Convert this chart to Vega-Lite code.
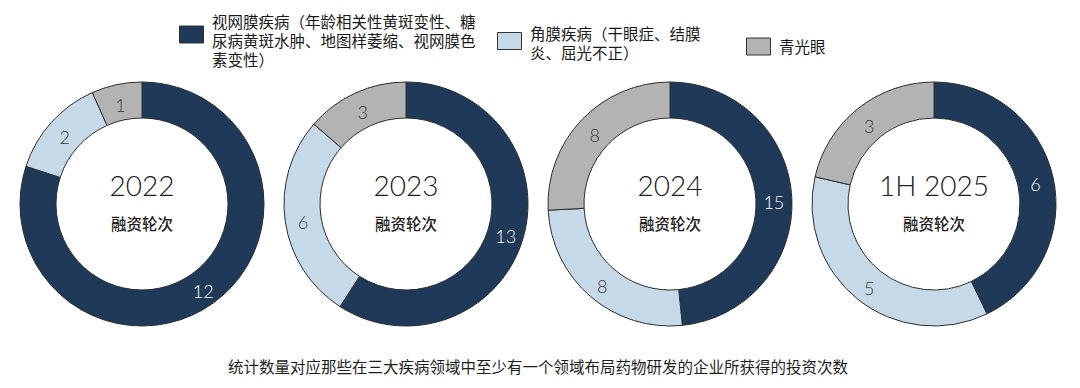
{
  "$schema": "https://vega.github.io/schema/vega-lite/v6.json",
  "background": "white",
  "padding": {"left": 18, "top": 24, "right": 10, "bottom": 5},
  "data": {
    "values": [
      {"year": "2022", "cat": "视网膜疾病（年龄相关性黄斑变性、糖尿病黄斑水肿、地图样萎缩、视网膜色素变性）", "n": 12},
      {"year": "2022", "cat": "角膜疾病（干眼症、结膜炎、屈光不正）", "n": 2},
      {"year": "2022", "cat": "青光眼", "n": 1},
      {"year": "2023", "cat": "视网膜疾病（年龄相关性黄斑变性、糖尿病黄斑水肿、地图样萎缩、视网膜色素变性）", "n": 13},
      {"year": "2023", "cat": "角膜疾病（干眼症、结膜炎、屈光不正）", "n": 6},
      {"year": "2023", "cat": "青光眼", "n": 3},
      {"year": "2024", "cat": "视网膜疾病（年龄相关性黄斑变性、糖尿病黄斑水肿、地图样萎缩、视网膜色素变性）", "n": 15},
      {"year": "2024", "cat": "角膜疾病（干眼症、结膜炎、屈光不正）", "n": 8},
      {"year": "2024", "cat": "青光眼", "n": 8},
      {"year": "1H 2025", "cat": "视网膜疾病（年龄相关性黄斑变性、糖尿病黄斑水肿、地图样萎缩、视网膜色素变性）", "n": 6},
      {"year": "1H 2025", "cat": "角膜疾病（干眼症、结膜炎、屈光不正）", "n": 5},
      {"year": "1H 2025", "cat": "青光眼", "n": 3}
    ]
  },
  "title": {
    "text": "统计数量对应那些在三大疾病领域中至少有一个领域布局药物研发的企业所获得的投资次数",
    "orient": "bottom",
    "anchor": "middle",
    "offset": 33,
    "font": "Noto Sans CJK SC",
    "fontSize": 15.5,
    "fontWeight": "normal",
    "color": "#1e1e1e"
  },
  "facet": {
    "column": {"field": "year", "type": "ordinal", "sort": ["2022", "2023", "2024", "1H 2025"], "header": null}
  },
  "spacing": 16,
  "spec": {
    "width": 244,
    "height": 244,
    "layer": [
      {
        "mark": {"type": "arc", "outerRadius": 122, "innerRadius": 86, "stroke": "#2e2e2e", "strokeWidth": 1},
        "encoding": {
          "theta": {"field": "n", "type": "quantitative", "stack": "normalize"},
          "order": {"field": "cat", "sort": "ascending"},
          "color": {
            "field": "cat",
            "type": "nominal",
            "scale": {
              "domain": ["视网膜疾病（年龄相关性黄斑变性、糖尿病黄斑水肿、地图样萎缩、视网膜色素变性）", "角膜疾病（干眼症、结膜炎、屈光不正）", "青光眼"],
              "range": ["#1f3a58", "#c6d9e8", "#b3b3b3"]
            },
            "legend": {
              "orient": "none",
              "legendX": 161,
              "legendY": -58,
              "direction": "horizontal",
              "title": null,
              "padding": 0,
              "symbolType": "M-1.2,-0.85H1.2V0.85H-1.2Z",
              "symbolSize": 400,
              "symbolStrokeColor": "#333333",
              "symbolStrokeWidth": 1,
              "symbolOpacity": 1,
              "labelFont": "Noto Sans CJK SC",
              "labelFontSize": 15.5,
              "labelColor": "#1a1a1a",
              "labelOffset": 10,
              "labelLimit": 600,
              "columnPadding": 19,
              "labelExpr": "length(datum.label) > 30 ? [substring(datum.label, 0, 17), substring(datum.label, 17, 34), substring(datum.label, 34)] : length(datum.label) > 10 ? [substring(datum.label, 0, 11) + '\u2800\u2800', substring(datum.label, 11)] : datum.label",
              "encode": {
                "labels": {
                  "update": {
                    "lineHeight": {"value": 19},
                    "dy": {"signal": "length(datum.label) > 30 ? -12 : length(datum.label) > 10 ? -6 : 1"}
                  }
                }
              }
            }
          }
        }
      },
      {
        "mark": {"type": "text", "radius": 104, "font": "Lato", "fontSize": 18, "fontWeight": 300, "dy": 5},
        "encoding": {
          "theta": {"field": "n", "type": "quantitative", "stack": "normalize"},
          "order": {"field": "cat", "sort": "ascending"},
          "detail": {"field": "cat"},
          "text": {"field": "n", "type": "quantitative"},
          "color": {"condition": {"test": "indexof(datum.cat, '视网膜') === 0", "value": "#ffffff"}, "value": "#3c3c3c"}
        }
      },
      {
        "transform": [{"aggregate": [{"op": "sum", "field": "n", "as": "total"}], "groupby": ["year"]}],
        "mark": {"type": "text", "font": "Lato", "fontSize": 28, "fontWeight": 300, "color": "#222222", "dy": -16},
        "encoding": {"text": {"field": "year", "type": "nominal"}}
      },
      {
        "transform": [{"aggregate": [{"op": "sum", "field": "n", "as": "total"}], "groupby": ["year"]}],
        "mark": {"type": "text", "font": "Noto Sans CJK SC", "fontSize": 15.5, "fontWeight": 500, "color": "#222222", "dy": 21},
        "encoding": {"text": {"value": "融资轮次"}}
      }
    ]
  },
  "config": {"view": {"stroke": null}}
}
